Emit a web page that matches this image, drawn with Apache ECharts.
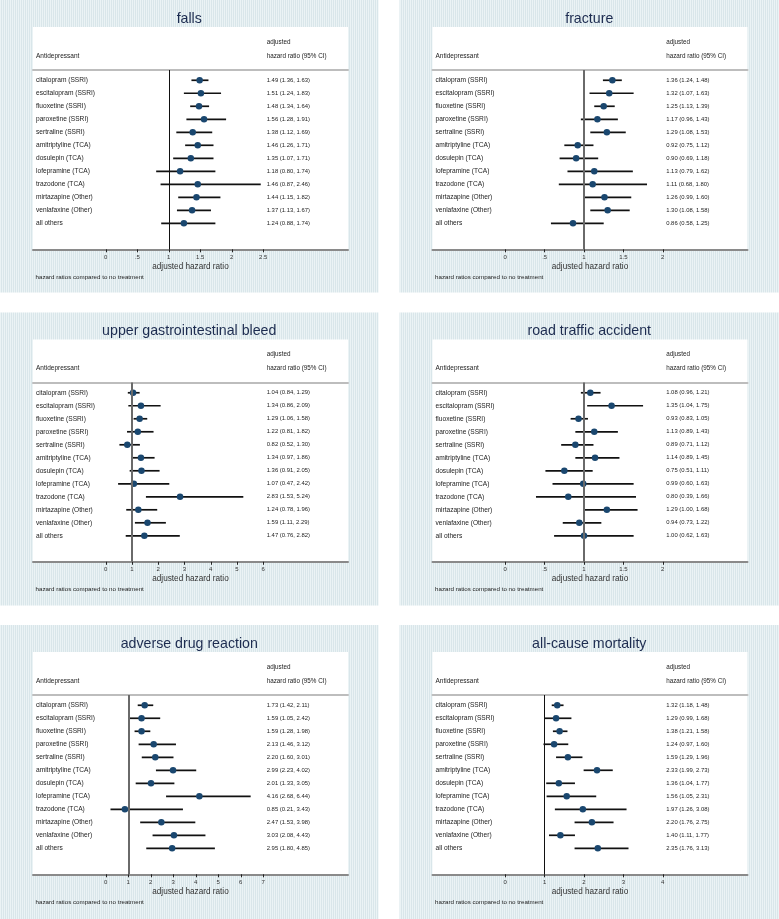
<!DOCTYPE html>
<html><head><meta charset="utf-8">
<script src="https://cdn.jsdelivr.net/npm/echarts@6/dist/echarts.min.js"></script>
<style>html,body{margin:0;padding:0;background:#fff}#c{width:779px;height:919px}</style>
</head><body><div id="c"></div>
<script>
// ---------------- data ----------------
const drugs = ['citalopram (SSRI)','escitalopram (SSRI)','fluoxetine (SSRI)','paroxetine (SSRI)','sertraline (SSRI)','amitriptyline (TCA)','dosulepin (TCA)','lofepramine (TCA)','trazodone (TCA)','mirtazapine (Other)','venlafaxine (Other)','all others'];

const fallsHR   = [1.49,1.51,1.48,1.56,1.38,1.46,1.35,1.18,1.46,1.44,1.37,1.24];
const fallsLow  = [1.36,1.24,1.34,1.28,1.12,1.26,1.07,0.80,0.87,1.15,1.13,0.88];
const fallsHigh = [1.63,1.83,1.64,1.91,1.69,1.71,1.71,1.74,2.46,1.82,1.67,1.74];

const fractureHR   = [1.36,1.32,1.25,1.17,1.29,0.92,0.90,1.13,1.11,1.26,1.30,0.86];
const fractureLow  = [1.24,1.07,1.13,0.96,1.08,0.75,0.69,0.79,0.68,0.99,1.08,0.58];
const fractureHigh = [1.48,1.63,1.39,1.43,1.53,1.12,1.18,1.62,1.80,1.60,1.58,1.25];

const giHR   = [1.04,1.34,1.29,1.22,0.82,1.34,1.36,1.07,2.83,1.24,1.59,1.47];
const giLow  = [0.84,0.86,1.06,0.81,0.52,0.97,0.91,0.47,1.53,0.78,1.11,0.76];
const giHigh = [1.29,2.09,1.58,1.82,1.30,1.86,2.05,2.42,5.24,1.96,2.29,2.82];

const roadHR   = [1.08,1.35,0.93,1.13,0.89,1.14,0.75,0.99,0.80,1.29,0.94,1.00];
const roadLow  = [0.96,1.04,0.83,0.89,0.71,0.89,0.51,0.60,0.39,1.00,0.73,0.62];
const roadHigh = [1.21,1.75,1.05,1.43,1.12,1.45,1.11,1.63,1.66,1.68,1.22,1.63];

const adrHR   = [1.73,1.59,1.59,2.13,2.20,2.99,2.01,4.16,0.85,2.47,3.03,2.95];
const adrLow  = [1.42,1.05,1.28,1.46,1.60,2.23,1.33,2.68,0.21,1.53,2.08,1.80];
const adrHigh = [2.11,2.42,1.98,3.12,3.01,4.02,3.05,6.44,3.43,3.98,4.43,4.85];

const mortHR   = [1.32,1.29,1.38,1.24,1.59,2.33,1.36,1.56,1.97,2.20,1.40,2.35];
const mortLow  = [1.18,0.99,1.21,0.97,1.29,1.99,1.04,1.05,1.26,1.76,1.11,1.76];
const mortHigh = [1.48,1.68,1.58,1.60,1.96,2.73,1.77,2.31,3.08,2.75,1.77,3.13];

const ticksHalf2_5 = [0,0.5,1,1.5,2,2.5];
const labelsHalf2_5 = ['0','.5','1','1.5','2','2.5'];
const ticksHalf2 = [0,0.5,1,1.5,2];
const labelsHalf2 = ['0','.5','1','1.5','2'];
const ticks0to6 = [0,1,2,3,4,5,6];
const labels0to6 = ['0','1','2','3','4','5','6'];
const ticks0to7 = [0,1,2,3,4,5,6,7];
const labels0to7 = ['0','1','2','3','4','5','6','7'];
const ticks0to4 = [0,1,2,3,4];
const labels0to4 = ['0','1','2','3','4'];

const titles = ['falls','fracture','upper gastrointestinal bleed','road traffic accident','adverse drug reaction','all-cause mortality'];
const headLeft = 'Antidepressant';
const headRight1 = 'adjusted';
const headRight2 = 'hazard ratio (95% CI)';
const axisTitle = 'adjusted hazard ratio';
const noteText = 'hazard ratios compared to no treatment';

// ---------------- layout ----------------
const panels = [
  {title:titles[0], hr:fallsHR, lo:fallsLow, hi:fallsHigh, ticks:ticksHalf2_5, labels:labelsHalf2_5, thin:true},
  {title:titles[1], hr:fractureHR, lo:fractureLow, hi:fractureHigh, ticks:ticksHalf2, labels:labelsHalf2, thin:false},
  {title:titles[2], hr:giHR, lo:giLow, hi:giHigh, ticks:ticks0to6, labels:labels0to6, thin:false},
  {title:titles[3], hr:roadHR, lo:roadLow, hi:roadHigh, ticks:ticksHalf2, labels:labelsHalf2, thin:false},
  {title:titles[4], hr:adrHR, lo:adrLow, hi:adrHigh, ticks:ticks0to7, labels:labels0to7, thin:false},
  {title:titles[5], hr:mortHR, lo:mortLow, hi:mortHigh, ticks:ticks0to4, labels:labels0to4, thin:true}
];
const colX = [0, 399.5], colW = [378.5, 379.5];
const rowY = [0, 312.5, 625], rowH = [292.5, 293, 294];
const FONT = "'Liberation Sans', Arial, Helvetica, sans-serif";

// stripe pattern for panel background
const pc = document.createElement('canvas');
pc.width = 2; pc.height = 2;
const pctx = pc.getContext('2d');
pctx.fillStyle = '#ebf3f5'; pctx.fillRect(0,0,2,2);
pctx.fillStyle = '#d9e6ea'; pctx.fillRect(1,0,1,2);
const pattern = {image: pc, repeat: 'repeat'};

const grids = [], xAxes = [], yAxes = [], series = [], graphics = [];
function txt(x, y, text, size, color, align) {
  graphics.push({type:'text', z:10, x:x, y:y, style:{text:text, font: size + 'px ' + FONT, fill:color,
    align:align, textAlign:align, verticalAlign:'middle', textVerticalAlign:'middle'}});
}

panels.forEach((p, k) => {
  const c = k % 2, r = Math.floor(k / 2);
  const ox = colX[c], oy = rowY[r];
  const T = p.ticks[p.ticks.length - 1];
  const xmin = -0.462 * T, xmax = xmin + 2 * T;

  graphics.push({type:'rect', z:-10, shape:{x:ox, y:oy, width:colW[c], height:rowH[r]}, style:{fill:pattern}});
  graphics.push({type:'rect', z:-9, shape:{x:ox+33, y:oy+27, width:315, height:222.3}, style:{fill:'#ffffff'}});

  txt(ox + colW[c]/2, oy + 19, p.title, 14.2, '#1d2c50', 'center');
  txt(ox + 36, oy + 56, headLeft, 6.5, '#222', 'left');
  txt(ox + 266.7, oy + 42, headRight1, 6.3, '#222', 'left');
  txt(ox + 266.7, oy + 56, headRight2, 6.3, '#222', 'left');
  txt(ox + 35.5, oy + 277, noteText, 6.2, '#222', 'left');

  grids.push({left: ox + 33, top: oy + 70, width: 315, height: 179.3, outerBoundsMode:'none', containLabel:false});

  xAxes.push({
    gridIndex:k, type:'value', min:xmin, max:xmax, position:'bottom',
    axisLine:{show:true, onZero:false, lineStyle:{color:'#8a8a8a', width:2}},
    axisTick:{show:true, customValues:p.ticks, length:3, inside:false, lineStyle:{color:'#222', width:1}},
    axisLabel:{show:true, customValues:p.ticks, margin:5, fontSize:6, fontFamily:FONT, color:'#333',
      formatter:(v)=>{ const i = p.ticks.findIndex(t => Math.abs(t - v) < 1e-9); return i >= 0 ? p.labels[i] : ''; }},
    splitLine:{show:false},
    name:axisTitle, nameLocation:'middle', nameGap:13,
    nameTextStyle:{fontSize:8.2, fontFamily:FONT, color:'#333'}
  });
  xAxes.push({
    gridIndex:k, type:'value', min:xmin, max:xmax, position:'top',
    axisLine:{show:true, onZero:false, lineStyle:{color:'#bdbdbd', width:2}},
    axisTick:{show:false}, axisLabel:{show:false}, splitLine:{show:false}
  });
  const rows = drugs.map((_, i) => i);
  yAxes.push({
    gridIndex:k, type:'value', inverse:true, min:-0.79, max:13.0, position:'left',
    axisLine:{show:false}, axisTick:{show:false}, splitLine:{show:false},
    axisLabel:{show:true, inside:true, margin:3, align:'left', customValues:rows,
      fontSize:6.6, fontFamily:FONT, color:'#222', formatter:(v)=>drugs[Math.round(v)] || ''}
  });
  yAxes.push({
    gridIndex:k, type:'value', inverse:true, min:-0.79, max:13.0, position:'right', offset:-81.3,
    axisLine:{show:false}, axisTick:{show:false}, splitLine:{show:false},
    axisLabel:{show:true, inside:false, margin:0, align:'left', customValues:rows,
      fontSize:5.9, fontFamily:FONT, color:'#222',
      formatter:(v)=>{ const i = Math.round(v); return p.hr[i] == null ? '' :
        p.hr[i].toFixed(2) + ' (' + p.lo[i].toFixed(2) + ', ' + p.hi[i].toFixed(2) + ')'; }}
  });

  series.push({
    type:'custom', xAxisIndex:2*k, yAxisIndex:2*k, z:3,
    data: p.hr.map((v, i) => [i, p.lo[i], p.hi[i]]),
    encode:{x:[1,2], y:0},
    renderItem:(params, api) => {
      const a = api.coord([api.value(1), api.value(0)]);
      const b = api.coord([api.value(2), api.value(0)]);
      return {type:'line', shape:{x1:a[0], y1:a[1], x2:b[0], y2:b[1]}, style:{stroke:'#111', lineWidth:1.7}};
    },
    silent:true
  });
  series.push({
    type:'scatter', xAxisIndex:2*k, yAxisIndex:2*k, z:4,
    data: p.hr.map((v, i) => [v, i]),
    symbol:'circle', symbolSize:6.5, itemStyle:{color:'#1a476f', opacity:1},
    markLine:{silent:true, symbol:['none','none'], label:{show:false},
      lineStyle: p.thin ? {color:'#111', width:1, type:'solid'} : {color:'#6a6a6a', width:2, type:'solid'},
      data:[{xAxis:1}], animation:false}
  });
});

const chart = echarts.init(document.getElementById('c'), null, {renderer:'canvas'});
chart.setOption({
  animation:false,
  backgroundColor:'#ffffff',
  grid: grids, xAxis: xAxes, yAxis: yAxes, series: series, graphic: graphics
});
</script></body></html>
